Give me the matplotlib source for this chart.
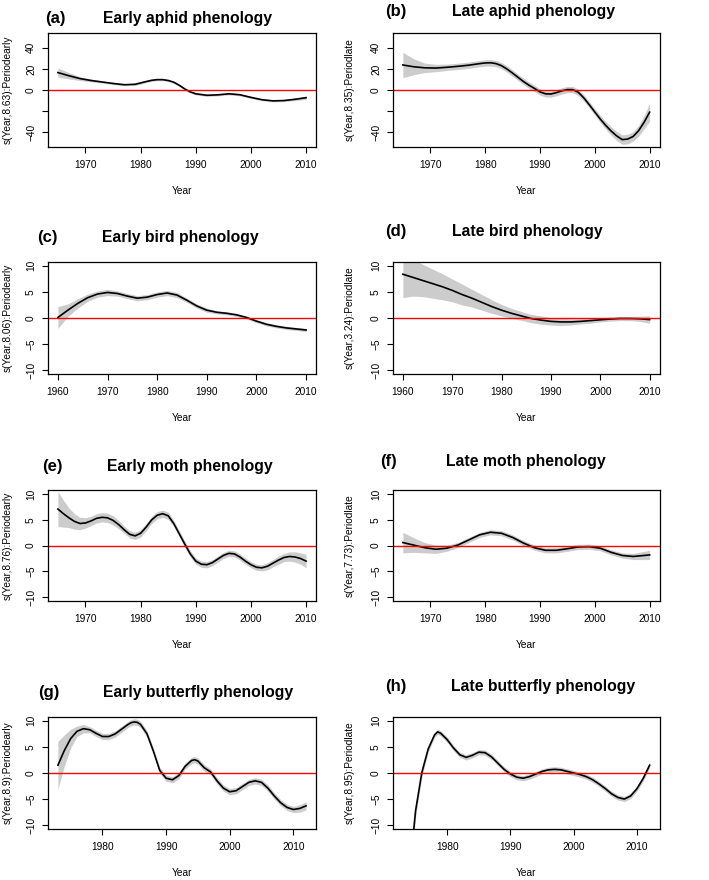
import matplotlib
matplotlib.use("Agg")
import matplotlib.pyplot as plt
import numpy as np

plt.rcParams['font.family'] = ['Liberation Sans', 'DejaVu Sans']
plt.rcParams['axes.unicode_minus'] = True

##### data (fit and half-width of the band) #####

# (a) early aphid
years_a = [1965, 1967, 1969, 1971, 1973, 1975, 1977, 1979, 1981, 1982, 1983, 1984,
           1985, 1986, 1987, 1988, 1989, 1990, 1992, 1994, 1996, 1998, 2000, 2002,
           2004, 2006, 2008, 2010]
fit_a = [16.5, 13.5, 10.8, 9.0, 7.6, 6.2, 5.0, 5.4, 8.0, 9.2, 9.8, 9.8,
         9.0, 7.4, 4.5, 1.0, -1.8, -3.6, -5.0, -4.6, -3.6, -4.5, -7.0, -9.2,
         -10.3, -10.0, -8.8, -7.3]
se_a = [4.3, 3.0, 1.8, 1.3, 1.1, 1.0, 1.0, 1.0, 1.0, 1.0, 1.0, 1.0,
        1.0, 1.0, 1.0, 1.0, 1.0, 1.0, 1.0, 1.0, 1.0, 1.0, 1.0, 1.0,
        1.0, 1.0, 1.2, 1.6]

# (b) late aphid
years_b = [1965, 1967, 1969, 1971, 1973, 1975, 1977, 1979, 1980, 1981, 1982, 1983,
           1984, 1985, 1986, 1987, 1988, 1989, 1990, 1991, 1992, 1993, 1994, 1995,
           1996, 1997, 1998, 1999, 2000, 2001, 2002, 2003, 2004, 2005, 2006, 2007,
           2008, 2009, 2010]
fit_b = [23.7, 22.0, 21.0, 20.8, 21.5, 22.4, 23.5, 25.0, 25.6, 25.8, 25.0, 23.0,
         19.8, 16.0, 12.0, 8.0, 4.5, 1.5, -1.8, -3.6, -3.8, -2.5, -0.8, 0.4,
         0.3, -2.2, -7.5, -14.0, -20.8, -27.5, -33.6, -39.0, -43.5, -47.0, -46.5, -44.0,
         -38.5, -30.5, -21.0]
se_b = [12.0, 7.5, 4.5, 3.5, 3.0, 3.0, 3.0, 3.0, 3.0, 3.0, 3.0, 3.0,
        3.0, 3.0, 3.0, 3.0, 3.0, 3.0, 3.0, 3.0, 3.0, 3.0, 3.0, 3.0,
        3.0, 3.0, 3.0, 3.0, 3.0, 3.3, 3.6, 4.0, 4.3, 4.5, 4.5, 4.5,
        5.0, 6.2, 8.5]

# (c) early bird
years_c = [1960, 1962, 1964, 1966, 1968, 1970, 1972, 1974, 1976, 1978, 1980, 1982,
           1984, 1986, 1988, 1990, 1992, 1994, 1996, 1998, 2000, 2002, 2004, 2006,
           2008, 2010]
fit_c = [0.1, 1.5, 2.8, 3.9, 4.6, 4.9, 4.7, 4.2, 3.8, 4.0, 4.5, 4.8,
         4.4, 3.4, 2.3, 1.5, 1.1, 0.9, 0.6, 0.1, -0.6, -1.2, -1.6, -1.9,
         -2.1, -2.3]
se_c = [2.1, 1.2, 0.9, 0.7, 0.6, 0.6, 0.5, 0.5, 0.5, 0.5, 0.5, 0.5,
        0.5, 0.4, 0.4, 0.4, 0.3, 0.3, 0.3, 0.3, 0.3, 0.3, 0.3, 0.3,
        0.3, 0.3]

# (d) late bird
years_d = [1960, 1962, 1964, 1966, 1968, 1970, 1972, 1974, 1976, 1978, 1980, 1982,
           1984, 1986, 1988, 1990, 1992, 1994, 1996, 1998, 2000, 2002, 2004, 2006,
           2008, 2010]
fit_d = [8.4, 7.8, 7.2, 6.6, 6.0, 5.3, 4.5, 3.8, 3.0, 2.2, 1.5, 0.9,
         0.4, -0.1, -0.4, -0.65, -0.75, -0.75, -0.65, -0.5, -0.35, -0.2, -0.1, -0.1,
         -0.15, -0.3]
se_d = [4.5, 3.6, 3.1, 2.8, 2.5, 2.2, 2.0, 1.7, 1.5, 1.3, 1.1, 0.95,
        0.85, 0.8, 0.8, 0.7, 0.7, 0.6, 0.5, 0.5, 0.4, 0.4, 0.4, 0.4,
        0.5, 0.7]

# (e) early moth
years_e = list(range(1965, 2011))
fit_e = [7.1, 6.2, 5.4, 4.7, 4.3, 4.4, 4.8, 5.3, 5.5, 5.4, 4.9, 4.1,
         3.1, 2.2, 1.9, 2.4, 3.6, 5.0, 5.9, 6.2, 5.8, 4.3, 2.3, 0.3,
         -1.6, -3.0, -3.6, -3.7, -3.3, -2.6, -1.9, -1.5, -1.6, -2.2, -3.0, -3.7,
         -4.2, -4.3, -4.0, -3.4, -2.8, -2.3, -2.1, -2.2, -2.5, -3.0]
se_e = [3.4, 2.6, 1.9, 1.5, 1.2, 1.0, 0.9, 0.9, 0.9, 0.9, 0.9, 0.8,
        0.7, 0.7, 0.7, 0.7, 0.7, 0.7, 0.7, 0.7, 0.7, 0.6, 0.6, 0.6,
        0.6, 0.6, 0.6, 0.6, 0.6, 0.6, 0.6, 0.6, 0.6, 0.6, 0.6, 0.6,
        0.6, 0.6, 0.7, 0.7, 0.8, 0.8, 0.9, 1.0, 1.1, 1.3]

# (f) late moth
years_f = [1965, 1967, 1969, 1971, 1973, 1975, 1977, 1979, 1981, 1983, 1985, 1987,
           1989, 1991, 1993, 1995, 1997, 1999, 2001, 2003, 2005, 2007, 2009, 2010]
fit_f = [0.6, 0.1, -0.4, -0.7, -0.5, 0.1, 1.1, 2.1, 2.6, 2.4, 1.6, 0.5,
         -0.4, -0.9, -0.9, -0.6, -0.25, -0.2, -0.5, -1.3, -1.9, -2.1, -1.9, -1.8]
se_f = [2.0, 1.4, 1.0, 0.8, 0.6, 0.5, 0.5, 0.5, 0.5, 0.5, 0.5, 0.5,
        0.5, 0.5, 0.5, 0.5, 0.5, 0.5, 0.5, 0.5, 0.5, 0.6, 0.8, 0.9]

# (g) early butterfly
years_g = [1973, 1974, 1975, 1976, 1977, 1978, 1979, 1980, 1981, 1982, 1983, 1984,
           1984.5, 1985, 1985.5, 1986, 1987, 1988, 1989, 1990, 1991, 1992, 1993, 1994,
           1994.5, 1995, 1996, 1997, 1998, 1999, 2000, 2001, 2002, 2003, 2004, 2005,
           2006, 2007, 2008, 2009, 2010, 2011, 2012]
fit_g = [1.5, 4.3, 6.6, 8.0, 8.5, 8.3, 7.6, 7.0, 7.0, 7.5, 8.4, 9.3,
         9.65, 9.8, 9.7, 9.3, 7.5, 4.2, 0.5, -1.0, -1.3, -0.5, 1.3, 2.4,
         2.55, 2.3, 1.0, 0.2, -1.5, -2.9, -3.6, -3.4, -2.6, -1.8, -1.5, -1.8,
         -2.9, -4.4, -5.7, -6.6, -7.0, -6.8, -6.3]
se_g = [4.6, 3.0, 1.8, 1.0, 0.8, 0.6, 0.6, 0.6, 0.6, 0.6, 0.6, 0.6,
        0.6, 0.6, 0.6, 0.6, 0.6, 0.6, 0.6, 0.6, 0.6, 0.6, 0.6, 0.6,
        0.6, 0.6, 0.6, 0.6, 0.6, 0.6, 0.6, 0.6, 0.6, 0.6, 0.6, 0.6,
        0.6, 0.6, 0.6, 0.6, 0.6, 0.7, 0.8]

# (h) late butterfly
years_h = [1973, 1974, 1975, 1976, 1977, 1978, 1978.5, 1979, 1980, 1981, 1982, 1983,
           1984, 1985, 1986, 1987, 1988, 1989, 1990, 1991, 1992, 1993, 1994, 1995,
           1996, 1997, 1998, 1999, 2000, 2001, 2002, 2003, 2004, 2005, 2006, 2007,
           2008, 2009, 2010, 2011, 2012]
fit_h = [-36.0, -20.0, -7.3, 0.1, 4.6, 7.3, 7.9, 7.6, 6.4, 4.8, 3.5, 3.0,
         3.4, 4.0, 3.9, 3.1, 1.9, 0.7, -0.2, -0.8, -1.0, -0.7, -0.2, 0.3,
         0.6, 0.7, 0.6, 0.3, 0.0, -0.3, -0.7, -1.3, -2.1, -3.0, -4.0, -4.7,
         -5.0, -4.4, -3.0, -1.0, 1.5]
se_h = [3.0, 2.0, 1.2, 0.8, 0.6, 0.5, 0.5, 0.5, 0.5, 0.5, 0.5, 0.5,
        0.5, 0.5, 0.5, 0.5, 0.5, 0.5, 0.5, 0.5, 0.5, 0.5, 0.5, 0.5,
        0.5, 0.5, 0.5, 0.5, 0.5, 0.5, 0.5, 0.5, 0.5, 0.5, 0.5, 0.5,
        0.5, 0.5, 0.5, 0.5, 0.6]

letters = ["(a)", "(b)", "(c)", "(d)", "(e)", "(f)", "(g)", "(h)"]
titles = ["Early aphid phenology", "Late aphid phenology",
          "Early bird phenology", "Late bird phenology",
          "Early moth phenology", "Late moth phenology",
          "Early butterfly phenology", "Late butterfly phenology"]
ylabels = ["s(Year,8.63):Periodearly", "s(Year,8.35):Periodlate",
           "s(Year,8.06):Periodearly", "s(Year,3.24):Periodlate",
           "s(Year,8.76):Periodearly", "s(Year,7.73):Periodlate",
           "s(Year,8.9):Periodearly", "s(Year,8.95):Periodlate"]

series = [(years_a, fit_a, se_a), (years_b, fit_b, se_b),
          (years_c, fit_c, se_c), (years_d, fit_d, se_d),
          (years_e, fit_e, se_e), (years_f, fit_f, se_f),
          (years_g, fit_g, se_g), (years_h, fit_h, se_h)]

##### layout (pixels) #####
W, H = 709, 880
cols = [(48, 316), (393, 659.5)]
rows = [(33, 147), (261.7, 374.3), (490, 601.3), (716.7, 829.3)]
lab_x = [45, 385, 36.7, 385, 41.7, 380, 38.3, 385]
tit_x = [103, 451.7, 101.7, 451.7, 106.7, 445.7, 103.3, 451]
tit_y = [18.3, 11.3, 237.7, 231.7, 467, 461.7, 693, 686.7]
ylab_x = [7.3, 350]

fig = plt.figure(figsize=(W / 100, H / 100), dpi=100)

for i in range(8):
    r, c = i // 2, i % 2
    left, right = cols[c]
    top, bottom = rows[r]
    ax = fig.add_axes([left / W, 1 - bottom / H, (right - left) / W, (bottom - top) / H])

    yrs, fit, se = series[i]
    yrs = np.array(yrs, dtype=float)
    fit = np.array(fit)
    se = np.array(se)
    ax.fill_between(yrs, fit - se, fit + se, color="#cccccc", lw=0)
    ax.plot(yrs, fit, color="black", lw=1.2, solid_joinstyle="round")
    ax.axhline(0, color="red", lw=1.0)

    x0, x1 = yrs[0], yrs[-1]
    pad = 0.04 * (x1 - x0)
    ax.set_xlim(x0 - pad, x1 + pad)
    if r == 0:
        ax.set_ylim(-54, 54)
        ax.set_yticks([-40, -20, 0, 20, 40])
        ax.set_yticklabels(["\u221240", "", "0", "20", "40"])
    else:
        ax.set_ylim(-10.8, 10.8)
        ax.set_yticks([-10, -5, 0, 5, 10])
        ax.set_yticklabels(["\u221210", "\u22125", "0", "5", "10"])
    if r == 1:
        ax.set_xticks([1960, 1970, 1980, 1990, 2000, 2010])
    elif r == 3:
        ax.set_xticks([1980, 1990, 2000, 2010])
    else:
        ax.set_xticks([1970, 1980, 1990, 2000, 2010])

    for s in ax.spines.values():
        s.set_linewidth(0.9)
    ax.tick_params(direction="out", length=4.1, width=0.8, labelsize=7.3, pad=5)
    ax.tick_params(axis="y", pad=4.5)
    for t in ax.get_yticklabels():
        t.set_rotation(90)
        t.set_va("center")

    fig.text((left + right) / 2 / W, 1 - (bottom + 43.7) / H, "Year",
             ha="center", va="center", fontsize=7.3)
    fig.text(ylab_x[c] / W, 1 - (top + bottom) / 2 / H, ylabels[i],
             rotation=90, ha="center", va="center", fontsize=7.3)
    fig.text(lab_x[i] / W, 1 - tit_y[i] / H, letters[i], ha="left", va="center",
             fontsize=12, fontweight="bold")
    fig.text(tit_x[i] / W, 1 - tit_y[i] / H, titles[i], ha="left", va="center",
             fontsize=11.3, fontweight="bold")

fig.savefig("out.png", dpi=100)
